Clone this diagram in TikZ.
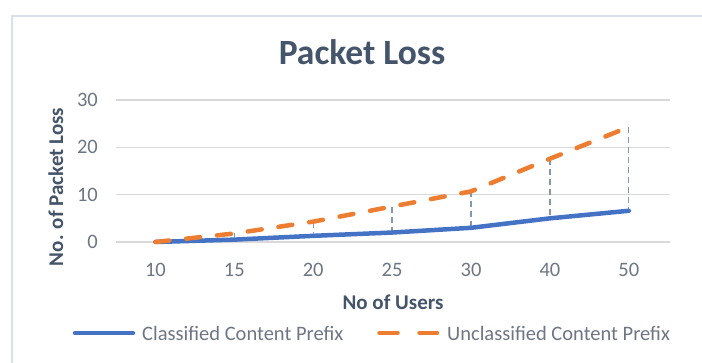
\documentclass[tikz,border=0pt]{standalone}
\usepackage{fontspec}
\setmainfont{Carlito}
\usepackage{tikz}
\definecolor{lineblue}{HTML}{4472C4}
\definecolor{lineorange}{HTML}{ED7D31}
\definecolor{gridgray}{HTML}{D9D9D9}
\definecolor{titleslate}{HTML}{44546A}
\definecolor{ticktext}{HTML}{6E7583}
\definecolor{dropblue}{HTML}{8497B0}
\definecolor{framegray}{HTML}{DCE0E6}

\begin{document}
\begin{tikzpicture}[x=1pt,y=1pt,
  ticklabel/.style={font=\fontsize{20.5}{24}\selectfont, text=ticktext, inner sep=0pt},
  axistitle/.style={font=\fontsize{21}{25}\selectfont\bfseries, text=titleslate, inner sep=0pt},
  gridline/.style={gridgray, line width=1.5pt},
  seriesa/.style={lineblue, line width=4.5pt, line cap=round, line join=round},
  seriesb/.style={lineorange, line width=4.5pt, line cap=round, line join=round, dash pattern=on 14pt off 17pt},
  dropline/.style={dropblue, line width=1.3pt, dash pattern=on 6pt off 4pt}]
%category width and height of one lost packet
\newcommand*{\CatW}{78.9}
\newcommand*{\ValH}{4.73}
\useasboundingbox (0,0) rectangle (702,363);
%chart frame
\draw [framegray, line width=1.2pt] (12,0) -- (12,347) -- (702,347);
%title
\node [font=\fontsize{35.5}{40}\selectfont\bfseries, text=titleslate, inner sep=0pt, anchor=base] (title) at (362,298) {Packet Loss};
%grid
\draw [gridline] (116,121) -- (670,121);
\draw [gridline] (116,121+\ValH*10) -- (670,121+\ValH*10);
\draw [gridline] (116,121+\ValH*20) -- (670,121+\ValH*20);
\draw [gridline] (116,121+\ValH*30) -- (670,121+\ValH*30);
%value axis
\node [ticklabel, anchor=east] (y0) at (98,121) {0};
\node [ticklabel, anchor=east] (y10) at (98,121+\ValH*10) {10};
\node [ticklabel, anchor=east] (y20) at (98,121+\ValH*20) {20};
\node [ticklabel, anchor=east] (y30) at (98,121+\ValH*30) {30};
\node [axistitle, rotate=90, anchor=base] (ytitle) at (63,176) {No. of Packet Loss};
%category axis
\node [ticklabel] (x10) at (155.4,93) {10};
\node [ticklabel] (x15) at (155.4+\CatW,93) {15};
\node [ticklabel] (x20) at (155.4+\CatW*2,93) {20};
\node [ticklabel] (x25) at (155.4+\CatW*3,93) {25};
\node [ticklabel] (x30) at (155.4+\CatW*4,93) {30};
\node [ticklabel] (x40) at (155.4+\CatW*5,93) {40};
\node [ticklabel] (x50) at (155.4+\CatW*6,93) {50};
\node [axistitle, anchor=base] (xtitle) at (393,53) {No of Users};
%classified points
\coordinate (c10) at (155.4,121);
\coordinate (c15) at (155.4+\CatW,121+\ValH*0.5);
\coordinate (c20) at (155.4+\CatW*2,121+\ValH*1.3);
\coordinate (c25) at (155.4+\CatW*3,121+\ValH*2.0);
\coordinate (c30) at (155.4+\CatW*4,121+\ValH*3.0);
\coordinate (c40) at (155.4+\CatW*5,121+\ValH*5.0);
\coordinate (c50) at (155.4+\CatW*6,121+\ValH*6.6);
%unclassified points
\coordinate (u10) at (155.4,121);
\coordinate (u15) at (155.4+\CatW,121+\ValH*1.8);
\coordinate (u20) at (155.4+\CatW*2,121+\ValH*4.3);
\coordinate (u25) at (155.4+\CatW*3,121+\ValH*7.5);
\coordinate (u30) at (155.4+\CatW*4,121+\ValH*10.7);
\coordinate (u40) at (155.4+\CatW*5,121+\ValH*17.6);
\coordinate (u50) at (155.4+\CatW*6,121+\ValH*24.3);
%drop lines
\draw [dropline] (u15) -- (c15);
\draw [dropline] (u20) -- (c20);
\draw [dropline] (u25) -- (c25);
\draw [dropline] (u30) -- (c30);
\draw [dropline] (u40) -- (c40);
\draw [dropline] (u50) -- (c50);
%series
\draw [seriesa] (c10) -- (c15) -- (c20) -- (c25) -- (c30) -- (c40) -- (c50);
\draw [seriesb] (u10) -- (u15) -- (u20) -- (u25) -- (u30) -- (u40) -- (u50);
%legend
\node [ticklabel, anchor=base west] (lega) at (142,22) {Classified Content Prefix};
\node [ticklabel, anchor=base west] (legb) at (447,22) {Unclassified Content Prefix};
\draw [seriesa] (75,30) -- (133,30);
\draw [seriesb, dash pattern=on 18pt off 22pt] (379.5,30) -- (437,30);
\end{tikzpicture}
\end{document}
